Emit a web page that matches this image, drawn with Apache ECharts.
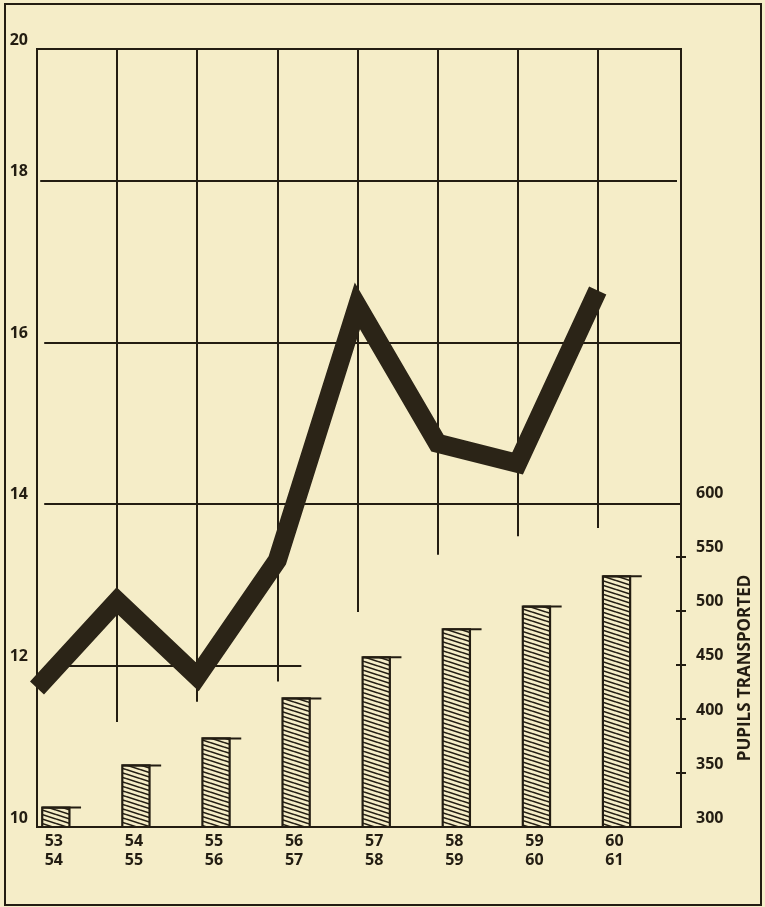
<!DOCTYPE html>
<html>
<head>
<meta charset="utf-8">
<script src="https://cdn.jsdelivr.net/npm/echarts@6/dist/echarts.min.js"></script>
<style>
html,body{margin:0;padding:0;background:#f5edc8;}
#chart{width:765px;height:907px;}
</style>
</head>
<body>
<div id="chart"></div>
<script>
// ---- data ----
const CATEGORIES = ['53\n54', '54\n55', '55\n56', '56\n57', '57\n58', '58\n59', '59\n60', '60\n61'];
const LINE_VALUES = [11.72, 12.8, 11.86, 13.3, 16.45, 14.75, 14.5, 16.64];
const PUPILS = [318, 357, 382, 419, 457, 483, 504, 532];
const LEFT_TICKS = [10, 12, 14, 16, 18, 20];
const RIGHT_TICKS = [300, 350, 400, 450, 500, 550, 600];
const RIGHT_MINOR_TICKS = [350, 400, 450, 500, 550];
const RIGHT_TITLE = 'PUPILS TRANSPORTED';

// ---- layout constants ----
const X_MAX = 8.04;
const Y_MIN = 10, Y_MAX = 19.63;
const R_MIN = 300, R_MAX = 1020;
const INK = '#231d12';
const BG = '#f5edc8';
const FONT = 'Open Sans';
// partial grid lines (in axis units)
const VLINE_ENDS = [11.3, 11.55, 11.8, 12.66, 13.37, 13.6, 13.7];
const HLINES = [[18, 0.04, 7.99], [16, 0.09, X_MAX], [14, 0.09, X_MAX], [12, 0.12, 3.3]];

// hatch pattern
const hatch = document.createElement('canvas');
hatch.width = 14; hatch.height = 9;
(function () {
  const c = hatch.getContext('2d');
  const W = 14, H = 9;
  c.fillStyle = BG; c.fillRect(0, 0, W, H);
  c.strokeStyle = INK; c.lineWidth = 1.6;
  for (const o of [-9, -4.5, 0, 4.5, 9]) {
    c.beginPath(); c.moveTo(0, o); c.lineTo(W, o + 4.5); c.stroke();
  }
})();

const gridLines = [];
VLINE_ENDS.forEach((e, i) => gridLines.push([{ coord: [i + 1, Y_MAX] }, { coord: [i + 1, e] }]));
HLINES.forEach(h => gridLines.push([{ coord: [h[1], h[0]] }, { coord: [h[2], h[0]] }]));

const labelStyle = { color: INK, fontFamily: FONT, fontWeight: 'bold', fontSize: 16 };

const chart = echarts.init(document.getElementById('chart'), null, { renderer: 'canvas' });
chart.setOption({
  backgroundColor: BG,
  animation: false,
  grid: { left: 37, right: 84, top: 49, bottom: 80, show: true, borderColor: INK, borderWidth: 2, backgroundColor: 'transparent' },
  xAxis: {
    type: 'value', min: 0, max: X_MAX,
    axisLine: { show: true, lineStyle: { color: INK, width: 2 } },
    axisTick: { show: false },
    splitLine: { show: false },
    axisLabel: Object.assign({
      customValues: CATEGORIES.map((c, i) => i + 0.21),
      formatter: v => CATEGORIES[Math.round(v - 0.21)],
      lineHeight: 19, margin: 5
    }, labelStyle)
  },
  yAxis: [
    {
      type: 'value', min: Y_MIN, max: Y_MAX,
      axisLine: { show: true, lineStyle: { color: INK, width: 2 } },
      axisTick: { show: false },
      splitLine: { show: false },
      axisLabel: Object.assign({
        customValues: LEFT_TICKS.map(t => Math.min(t, Y_MAX)),
        formatter: v => String(LEFT_TICKS.find(t => Math.abs(Math.min(t, Y_MAX) - v) < 1e-6)),
        margin: 9, verticalAlign: 'bottom', padding: [0, 0, 1, 0]
      }, labelStyle)
    },
    {
      type: 'value', min: R_MIN, max: R_MAX, position: 'right',
      axisLine: { show: true, lineStyle: { color: INK, width: 2 } },
      axisTick: { show: true, inside: false, length: 5, customValues: RIGHT_MINOR_TICKS, lineStyle: { color: INK, width: 2 } },
      splitLine: { show: false },
      axisLabel: Object.assign({
        customValues: RIGHT_TICKS,
        margin: 15, verticalAlign: 'bottom', padding: [0, 0, 1, 0]
      }, labelStyle)
    },
    {
      type: 'value', min: R_MIN, max: R_MAX, position: 'right',
      axisLine: { show: false },
      axisTick: { show: true, inside: true, length: 5, customValues: RIGHT_MINOR_TICKS, lineStyle: { color: INK, width: 2 } },
      splitLine: { show: false },
      axisLabel: { show: false }
    }
  ],
  series: [
    {
      type: 'custom',
      yAxisIndex: 1,
      z: 3,
      data: PUPILS.map((v, i) => [i, v]),
      renderItem: function (params, api) {
        const i = api.value(0), v = api.value(1);
        const tl = api.coord([i + 0.065, v]);
        const br = api.coord([i + 0.405, R_MIN]);
        const ext = api.coord([i + 0.55, v]);
        return {
          type: 'group',
          children: [
            { type: 'rect', shape: { x: tl[0], y: tl[1], width: br[0] - tl[0], height: br[1] - tl[1] },
              style: { fill: { type: 'pattern', image: hatch, repeat: 'repeat' }, stroke: INK, lineWidth: 2.2 } },
            { type: 'line', shape: { x1: tl[0], y1: tl[1], x2: ext[0], y2: ext[1] },
              style: { stroke: INK, lineWidth: 2 } }
          ]
        };
      }
    },
    {
      type: 'line',
      yAxisIndex: 0,
      z: 5,
      data: LINE_VALUES.map((v, i) => [i, v]),
      showSymbol: false,
      symbol: 'none',
      lineStyle: { color: '#2b2417', width: 19, join: 'miter', miterLimit: 20, cap: 'butt' },
      markLine: {
        silent: true, symbol: 'none', z: 2,
        label: { show: false },
        lineStyle: { color: INK, width: 2, type: 'solid' },
        data: gridLines
      }
    }
  ],
  graphic: [
    { type: 'rect', shape: { x: 5, y: 4, width: 756, height: 901 }, style: { fill: 'none', stroke: INK, lineWidth: 2 }, silent: true },
    { type: 'text', x: 745, y: 668, rotation: Math.PI / 2,
      style: { text: RIGHT_TITLE, fill: INK, font: 'bold 17px "Open Sans"', align: 'center', verticalAlign: 'middle' } }
  ]
});
</script>
</body>
</html>
